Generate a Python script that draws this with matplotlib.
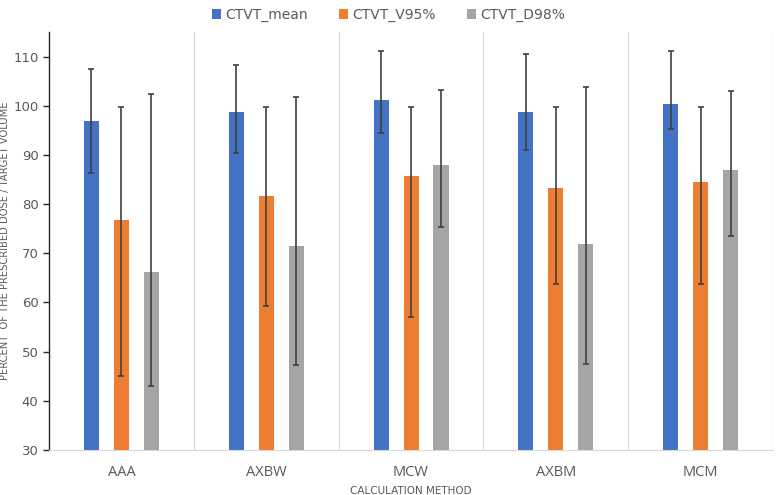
import matplotlib.pyplot as plt
import numpy as np
from matplotlib.patches import Patch

methods = ['AAA', 'AXBW', 'MCW', 'AXBM', 'MCM']
series = ['CTVT_mean', 'CTVT_V95%', 'CTVT_D98%']

mean_vals = [96.9, 98.7, 101.1, 98.7, 100.4]
mean_lo = [86.3, 90.4, 94.4, 91.0, 95.3]
mean_hi = [107.5, 108.3, 111.2, 110.5, 111.2]

v95_vals = [76.8, 81.7, 85.7, 83.3, 84.4]
v95_lo = [45.0, 59.2, 57.0, 63.7, 63.7]
v95_hi = [99.8, 99.8, 99.8, 99.8, 99.8]

d98_vals = [66.1, 71.5, 87.9, 71.8, 87.0]
d98_lo = [43.0, 47.2, 75.3, 47.5, 73.5]
d98_hi = [102.3, 101.8, 103.3, 103.8, 103.1]

colors = ['#4472C4', '#ED7D31', '#A5A5A5']
text_col = '#595959'

fig = plt.figure(figsize=(7.77, 4.95), dpi=100)
ax = fig.add_axes([0.0631, 0.0909, 0.9318, 0.8445])

x = np.arange(len(methods))
offsets = [-0.207, 0.0, 0.207]
width = 0.104
data = [(mean_vals, mean_lo, mean_hi), (v95_vals, v95_lo, v95_hi), (d98_vals, d98_lo, d98_hi)]

for i, (vals, lo, hi) in enumerate(data):
    vals = np.array(vals)
    yerr = [vals - np.array(lo), np.array(hi) - vals]
    ax.bar(x + offsets[i], vals - 30, width, bottom=30, color=colors[i], zorder=2)
    ax.errorbar(x + offsets[i], vals, yerr=yerr, fmt='none', ecolor='#404040',
                elinewidth=1.2, capsize=2.5, capthick=1.2, zorder=3)

# group separators
for b in np.arange(0.5, len(methods), 1.0):
    ax.axvline(b, color='#D9D9D9', lw=0.9, zorder=1)

ax.set_xlim(-0.5, len(methods) - 0.5)
ax.set_ylim(30, 115)
ax.set_yticks(np.arange(30, 111, 10))
ax.set_xticks(x)
ax.set_xticklabels(methods)

ax.spines['top'].set_visible(False)
ax.spines['right'].set_visible(False)
ax.spines['left'].set_color('#262626')
ax.spines['left'].set_linewidth(1.0)
ax.spines['bottom'].set_color('#D9D9D9')
ax.tick_params(axis='y', colors='#262626', labelcolor=text_col, labelsize=9.5,
               length=4, width=1.0)
ax.tick_params(axis='x', length=0, labelcolor=text_col, labelsize=10.5, pad=11)
for lab in ax.get_xticklabels():
    lab.set_fontfamily('Open Sans')

ax.set_xlabel('CALCULATION METHOD', color=text_col, fontsize=7.5, labelpad=4)
ax.set_ylabel('PERCENT  OF THE PRESCRIBED DOSE / TARGET VOLUME', color=text_col,
              fontsize=7.2)
ax.yaxis.set_label_coords(-0.054, 0.5)

handles = [Patch(facecolor=c) for c in colors]
fig.legend(handles, series, loc='upper center', bbox_to_anchor=(0.5, 1.01), ncol=3,
           frameon=False, fontsize=10, handlelength=0.7, handleheight=0.7,
           handletextpad=0.3, columnspacing=2.2, labelcolor=text_col)

fig.savefig('out.png', dpi=100)
